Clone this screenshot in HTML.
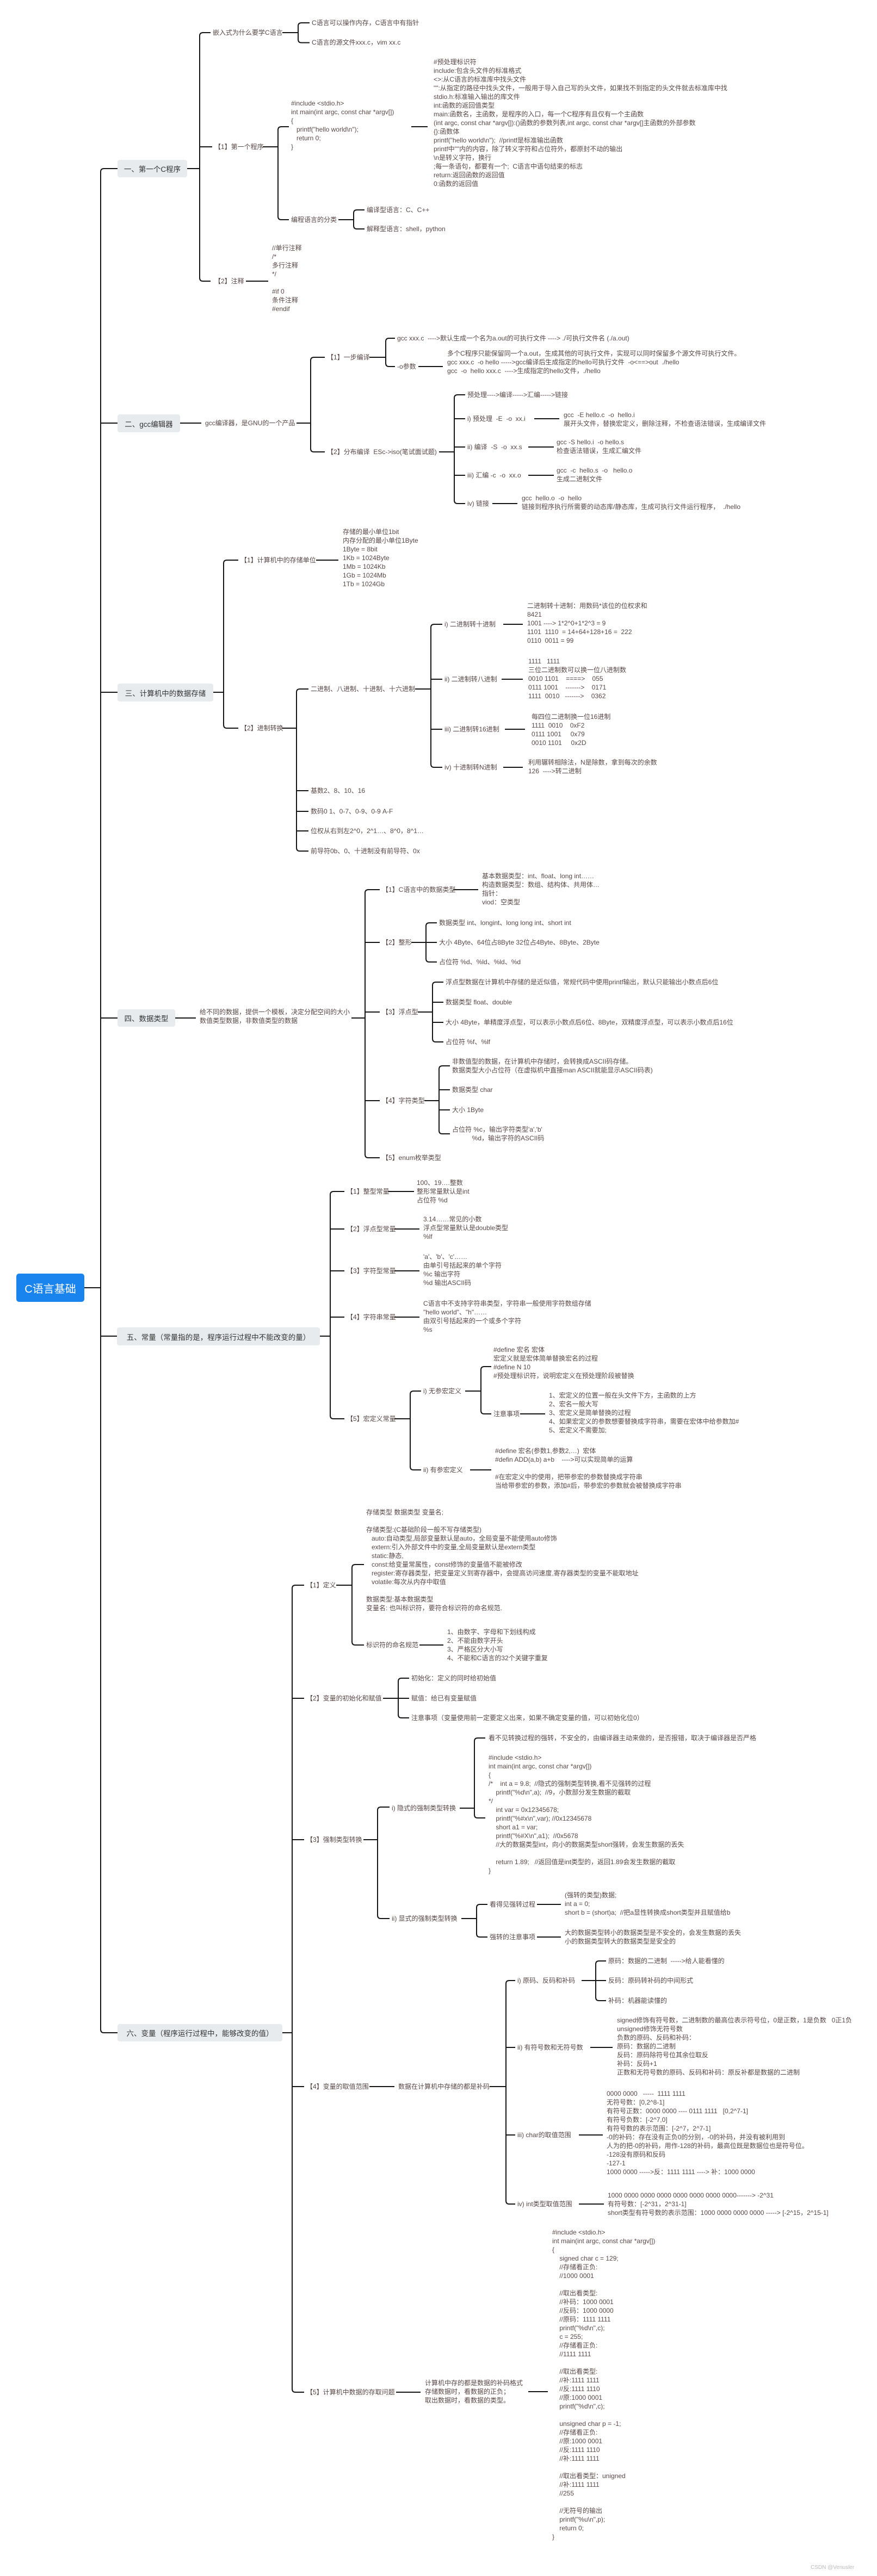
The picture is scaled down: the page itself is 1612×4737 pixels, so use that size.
<!DOCTYPE html>
<html><head><meta charset="utf-8">
<style>
html,body{margin:0;padding:0;background:#fff}
body{width:1612px;height:4737px;position:relative;overflow:hidden;font-family:"Liberation Sans","Noto Sans CJK SC",sans-serif}
.t{position:absolute;font-size:12px;line-height:16px;color:#5a4848;white-space:pre}
.b{position:absolute;background:#e8ebee;border-radius:4px;color:#333;font-size:13.5px;display:flex;align-items:center;justify-content:center;white-space:pre}
.r{position:absolute;background:#1a84ee;border-radius:5px;color:#fff;font-size:20px;display:flex;align-items:center;justify-content:center}
svg{position:absolute;left:0;top:0}
</style></head><body>
<svg width="1612" height="4737"><g fill="none" stroke="#151515" stroke-width="2">
<path d="M155 2368H185 M216 310H191Q185 310 185 316V3732Q185 3738 191 3738H216 M185 778H216 M185 1273H216 M185 1872H216 M185 2457H216"/>
<path d="M344 310H367 M387 60H373Q367 60 367 66V511Q367 517 373 517H387 M367 270H390"/>
<path d="M519 60H548 M569 42H554Q548 42 548 48V72.5Q548 78.5 554 78.5H569"/>
<path d="M483 270H511 M531 233H517Q511 233 511 239V398Q511 404 517 404H531"/>
<path d="M756 233H786"/>
<path d="M622 404H650 M670 386H656Q650 386 650 392V415Q650 421 656 421H670"/>
<path d="M452 517H493"/>
<path d="M331 778H370 M545 778H571 M597 657H577Q571 657 571 663V825Q571 831 577 831H597"/>
<path d="M679 657H709 M726 622H715Q709 622 709 628V668Q709 674 715 674H726"/>
<path d="M769 674H814"/>
<path d="M807 831H835 M855 726H841Q835 726 835 732V920Q835 926 841 926H855 M835 770H855 M835 822H855 M835 874H855"/>
<path d="M982 770H1028 M971 822H1018 M971 874H1018 M905 926H951"/>
<path d="M392 1273H411 M438 1030H417Q411 1030 411 1036V1333Q411 1339 417 1339H438"/>
<path d="M581 1030H622"/>
<path d="M519 1339H545 M567 1267H551Q545 1267 545 1273V1559Q545 1565 551 1565H567 M545 1454H567 M545 1492H567 M545 1528H567"/>
<path d="M763 1267H792 M813 1148H798Q792 1148 792 1154V1405Q792 1411 798 1411H813 M792 1249H813 M792 1341H813"/>
<path d="M925 1148H961 M922 1249H961 M928 1341H965 M925 1411H961"/>
<path d="M322 1872H360 M646 1872H671 M698 1636H677Q671 1636 671 1642V2123Q671 2129 677 2129H698 M671 1733H698 M671 1861H698 M671 2024H698"/>
<path d="M833 1636H879"/>
<path d="M756 1733H783 M803 1697H789Q783 1697 783 1703V1763Q783 1769 789 1769H803 M783 1733H803"/>
<path d="M768 1861H795 M815 1806H801Q795 1806 795 1812V1910Q795 1916 801 1916H815 M795 1843H815 M795 1880H815"/>
<path d="M780 2024H807 M827 1960H813Q807 1960 807 1966V2079Q807 2085 813 2085H827 M807 2004H827 M807 2041H827"/>
<path d="M588 2457H607 M633 2191H613Q607 2191 607 2197V2603Q607 2609 613 2609H633 M607 2260H633 M607 2337H633 M607 2422H633"/>
<path d="M714 2191H761 M725 2260H771 M725 2337H771 M725 2422H771"/>
<path d="M725 2609H754 M774 2558H760Q754 2558 754 2564V2697Q754 2703 760 2703H774"/>
<path d="M855 2558H884 M903 2513H890Q884 2513 884 2519V2594Q884 2600 890 2600H903"/>
<path d="M956 2600H1002 M864 2703H903"/>
<path d="M519 3738H537 M559 2915H543Q537 2915 537 2921V4393Q537 4399 543 4399H559 M537 3123H559 M537 3383H559 M537 3837H559"/>
<path d="M618 2915H647 M669 2877H653Q647 2877 647 2883V3019Q647 3025 653 3025H669"/>
<path d="M771 3025H815"/>
<path d="M704 3123H732 M752 3086H738Q732 3086 732 3092V3153Q732 3159 738 3159H752 M732 3123H752"/>
<path d="M668 3383H694 M716 3323H700Q694 3323 694 3329V3522Q694 3528 700 3528H716"/>
<path d="M845 3325H872 M892 3196H878Q872 3196 872 3202V3337Q872 3343 878 3343H892"/>
<path d="M848 3528H876 M896 3502H882Q876 3502 876 3508V3556Q876 3562 882 3562H896"/>
<path d="M987 3502H1031 M987 3562H1031"/>
<path d="M679 3837H725 M900 3837H930 M947 3642H936Q930 3642 930 3648V4047Q930 4053 936 4053H947 M930 3765H947 M930 3926H947"/>
<path d="M1069 3642H1095 M1114 3606H1101Q1095 3606 1095 3612V3673Q1095 3679 1101 3679H1114 M1095 3642H1114"/>
<path d="M1085 3765H1126 M1064 3926H1108 M1064 4053H1110"/>
<path d="M728 4399H773 M971 4398H1007"/>
</g></svg>

<div class="r" style="left:30px;top:2342px;width:125px;height:52px">C语言基础</div>
<div class="b" style="left:216px;top:294px;width:128px;height:32px">一、第一个C程序</div>
<div class="b" style="left:216px;top:762px;width:115px;height:33px">二、gcc编辑器</div>
<div class="b" style="left:216px;top:1257px;width:176px;height:33px">三、计算机中的数据存储</div>
<div class="b" style="left:216px;top:1856px;width:106px;height:32px">四、数据类型</div>
<div class="b" style="left:215px;top:2441px;width:373px;height:33px">五、常量（常量指的是，程序运行过程中不能改变的量）</div>
<div class="b" style="left:216px;top:3722px;width:303px;height:32px">六、变量（程序运行过程中，能够改变的值）</div>

<!-- 一 -->
<div class="t" style="left:391px;top:52px">嵌入式为什么要学C语言</div>
<div class="t" style="left:573px;top:34px">C语言可以操作内存，C语言中有指针</div>
<div class="t" style="left:573px;top:70px">C语言的源文件xxx.c，vim xx.c</div>
<div class="t" style="left:394px;top:262px">【1】第一个程序</div>
<div class="t" style="left:535px;top:182px">#include &lt;stdio.h&gt;
int main(int argc, const char *argv[])
{
   printf("hello world\n");
   return 0;
}</div>
<div class="t" style="left:797px;top:106px">#预处理标识符
include:包含头文件的标准格式
&lt;&gt;:从C语言的标准库中找头文件
"":从指定的路径中找头文件，一般用于导入自己写的头文件，如果找不到指定的头文件就去标准库中找
stdio.h:标准输入输出的库文件
int:函数的返回值类型
main:函数名，主函数，是程序的入口，每一个C程序有且仅有一个主函数
(int argc, const char *argv[]):()函数的参数列表,int argc, const char *argv[]主函数的外部参数
{}:函数体
printf("hello world\n");  //printf是标准输出函数
printf中""内的内容，除了转义字符和占位符外，都原封不动的输出
\n是转义字符，换行
;每一条语句，都要有一个;  C语言中语句结束的标志
return:返回函数的返回值
0:函数的返回值</div>
<div class="t" style="left:535px;top:396px">编程语言的分类</div>
<div class="t" style="left:674px;top:378px">编译型语言：C、C++</div>
<div class="t" style="left:674px;top:413px">解释型语言：shell，python</div>
<div class="t" style="left:394px;top:509px">【2】注释</div>
<div class="t" style="left:500px;top:448px">//单行注释
/*
多行注释
*/

#if 0
条件注释
#endif</div>

<!-- 二 -->
<div class="t" style="left:377px;top:770px">gcc编译器，是GNU的一个产品</div>
<div class="t" style="left:601px;top:649px">【1】一步编译</div>
<div class="t" style="left:730px;top:614px">gcc xxx.c  ---->默认生成一个名为a.out的可执行文件 ----> ./可执行文件名 (./a.out)</div>
<div class="t" style="left:730px;top:666px">-o参数</div>
<div class="t" style="left:822px;top:642px">多个C程序只能保留同一个a.out，生成其他的可执行文件，实现可以同时保留多个源文件可执行文件。
gcc xxx.c  -o hello ----->gcc编译后生成指定的hello可执行文件  -o&lt;==&gt;out  ./hello
gcc  -o  hello xxx.c  ---->生成指定的hello文件，./hello</div>
<div class="t" style="left:601px;top:823px">【2】分布编译  ESc-&gt;iso(笔试面试题)</div>
<div class="t" style="left:859px;top:718px">预处理---->编译----->汇编----->链接</div>
<div class="t" style="left:859px;top:762px">i) 预处理  -E  -o  xx.i</div>
<div class="t" style="left:1036px;top:755px">gcc  -E hello.c  -o  hello.i
展开头文件，替换宏定义，删除注释，不检查语法错误，生成编译文件</div>
<div class="t" style="left:859px;top:814px">ii) 编译  -S  -o  xx.s</div>
<div class="t" style="left:1023px;top:805px">gcc -S hello.i  -o hello.s
检查语法错误，生成汇编文件</div>
<div class="t" style="left:859px;top:866px">iii) 汇编 -c  -o  xx.o</div>
<div class="t" style="left:1023px;top:857px">gcc  -c  hello.s  -o   hello.o
生成二进制文件</div>
<div class="t" style="left:859px;top:918px">iv) 链接</div>
<div class="t" style="left:959px;top:908px">gcc  hello.o  -o  hello
链接到程序执行所需要的动态库/静态库，生成可执行文件运行程序，  ./hello</div>

<!-- 三 -->
<div class="t" style="left:442px;top:1022px">【1】计算机中的存储单位</div>
<div class="t" style="left:630px;top:970px">存储的最小单位1bit
内存分配的最小单位1Byte
1Byte = 8bit
1Kb = 1024Byte
1Mb = 1024Kb
1Gb = 1024Mb
1Tb = 1024Gb</div>
<div class="t" style="left:442px;top:1331px">【2】进制转换</div>
<div class="t" style="left:571px;top:1259px">二进制、八进制、十进制、十六进制</div>
<div class="t" style="left:817px;top:1140px">i) 二进制转十进制</div>
<div class="t" style="left:969px;top:1106px">二进制转十进制：用数码*该位的位权求和
8421
1001 ----> 1*2^0+1*2^3 = 9
1101  1110  = 14+64+128+16 =  222
0110  0011 = 99</div>
<div class="t" style="left:817px;top:1241px">ii) 二进制转八进制</div>
<div class="t" style="left:971px;top:1208px">1111   1111
三位二进制数可以换一位八进制数
0010 1101    ====>    055
0111 1001    ------->    0171
1111  0010   ------->    0362</div>
<div class="t" style="left:817px;top:1333px">iii) 二进制转16进制</div>
<div class="t" style="left:977px;top:1310px">每四位二进制换一位16进制
1111  0010    0xF2
0111 1001     0x79
0010 1101     0x2D</div>
<div class="t" style="left:817px;top:1403px">iv) 十进制转N进制</div>
<div class="t" style="left:971px;top:1394px">利用辗转相除法，N是除数，拿到每次的余数
126  ---->转二进制</div>
<div class="t" style="left:571px;top:1446px">基数2、8、10、16</div>
<div class="t" style="left:571px;top:1484px">数码0 1、0-7、0-9、0-9 A-F</div>
<div class="t" style="left:571px;top:1520px">位权从右到左2^0，2^1…、8^0，8^1…</div>
<div class="t" style="left:571px;top:1557px">前导符0b、0、十进制没有前导符、0x</div>

<!-- 四 -->
<div class="t" style="left:367px;top:1853px">给不同的数据，提供一个模板，决定分配空间的大小
数值类型数据，非数值类型的数据</div>
<div class="t" style="left:702px;top:1628px">【1】C语言中的数据类型</div>
<div class="t" style="left:886px;top:1603px">基本数据类型：int、float、long int……
构造数据类型：数组、结构体、共用体…
指针：
viod：空类型</div>
<div class="t" style="left:702px;top:1725px">【2】整形</div>
<div class="t" style="left:807px;top:1689px">数据类型 int、longint、long long int、short int</div>
<div class="t" style="left:807px;top:1725px">大小 4Byte、64位占8Byte 32位占4Byte、8Byte、2Byte</div>
<div class="t" style="left:807px;top:1761px">占位符 %d、%ld、%ld、%d</div>
<div class="t" style="left:702px;top:1853px">【3】浮点型</div>
<div class="t" style="left:819px;top:1798px">浮点型数据在计算机中存储的是近似值，常规代码中使用printf输出，默认只能输出小数点后6位</div>
<div class="t" style="left:819px;top:1835px">数据类型 float、double</div>
<div class="t" style="left:819px;top:1872px">大小 4Byte，单精度浮点型，可以表示小数点后6位、8Byte，双精度浮点型，可以表示小数点后16位</div>
<div class="t" style="left:819px;top:1908px">占位符 %f、%lf</div>
<div class="t" style="left:702px;top:2016px">【4】字符类型</div>
<div class="t" style="left:831px;top:1944px">非数值型的数据，在计算机中存储时，会转换成ASCII码存储。
数据类型大小占位符（在虚拟机中直接man ASCII就能显示ASCII码表)</div>
<div class="t" style="left:831px;top:1996px">数据类型 char</div>
<div class="t" style="left:831px;top:2033px">大小 1Byte</div>
<div class="t" style="left:831px;top:2069px">占位符 %c，输出字符类型'a','b'
           %d，输出字符的ASCII码</div>
<div class="t" style="left:702px;top:2121px">【5】enum枚举类型</div>

<!-- 五 -->
<div class="t" style="left:637px;top:2183px">【1】整型常量</div>
<div class="t" style="left:766px;top:2167px">100、19….整数
整形常量默认是int
占位符 %d</div>
<div class="t" style="left:637px;top:2252px">【2】浮点型常量</div>
<div class="t" style="left:778px;top:2234px">3.14……常见的小数
浮点型常量默认是double类型
%lf</div>
<div class="t" style="left:637px;top:2329px">【3】字符型常量</div>
<div class="t" style="left:778px;top:2303px">'a'、'b'、'c'……
由单引号括起来的单个字符
%c 输出字符
%d 输出ASCII码</div>
<div class="t" style="left:637px;top:2414px">【4】字符串常量</div>
<div class="t" style="left:778px;top:2389px">C语言中不支持字符串类型，字符串一般使用字符数组存储
"hello world"、"h"……
由双引号括起来的一个或多个字符
%s</div>
<div class="t" style="left:637px;top:2601px">【5】宏定义常量</div>
<div class="t" style="left:778px;top:2550px">i) 无参宏定义</div>
<div class="t" style="left:907px;top:2474px">#define 宏名 宏体
宏定义就是宏体简单替换宏名的过程
#define N 10
#预处理标识符，说明宏定义在预处理阶段被替换</div>
<div class="t" style="left:907px;top:2592px">注意事项</div>
<div class="t" style="left:1009px;top:2558px">1、宏定义的位置一般在头文件下方，主函数的上方
2、宏名一般大写
3、宏定义是简单替换的过程
4、如果宏定义的参数想要替换成字符串，需要在宏体中给参数加#
5、宏定义不需要加;</div>
<div class="t" style="left:778px;top:2695px">ii) 有参宏定义</div>
<div class="t" style="left:910px;top:2660px">#define 宏名(参数1,参数2,…)  宏体
#defin ADD(a,b) a+b    ---->可以实现简单的运算

#在宏定义中的使用，把带参宏的参数替换成字符串
当给带参宏的参数，添加#后，带参宏的参数就会被替换成字符串</div>

<!-- 六 -->
<div class="t" style="left:563px;top:2907px">【1】定义</div>
<div class="t" style="left:673px;top:2773px">存储类型 数据类型 变量名;

存储类型:(C基础阶段一般不写存储类型)
   auto:自动类型,局部变量默认是auto，全局变量不能使用auto修饰
   extern:引入外部文件中的变量,全局变量默认是extern类型
   static:静态,
   const:给变量常属性，const修饰的变量值不能被修改
   register:寄存器类型，把变量定义到寄存器中，会提高访问速度,寄存器类型的变量不能取地址
   volatile:每次从内存中取值

数据类型:基本数据类型
变量名: 也叫标识符，要符合标识符的命名规范.</div>
<div class="t" style="left:673px;top:3017px">标识符的命名规范</div>
<div class="t" style="left:822px;top:2993px">1、由数字、字母和下划线构成
2、不能由数字开头
3、严格区分大小写
4、不能和C语言的32个关键字重复</div>
<div class="t" style="left:563px;top:3115px">【2】变量的初始化和赋值</div>
<div class="t" style="left:756px;top:3078px">初始化：定义的同时给初始值</div>
<div class="t" style="left:756px;top:3115px">赋值：给已有变量赋值</div>
<div class="t" style="left:756px;top:3151px">注意事项（变量使用前一定要定义出来，如果不确定变量的值，可以初始化位0）</div>
<div class="t" style="left:563px;top:3375px">【3】强制类型转换</div>
<div class="t" style="left:720px;top:3317px">i) 隐式的强制类型转换</div>
<div class="t" style="left:898px;top:3188px">看不见转换过程的强转，不安全的，由编译器主动来做的，是否报错，取决于编译器是否严格</div>
<div class="t" style="left:898px;top:3224px">#include &lt;stdio.h&gt;
int main(int argc, const char *argv[])
{
/*    int a = 9.8;  //隐式的强制类型转换,看不见强转的过程
    printf("%d\n",a);  //9，小数部分发生数据的截取
*/
    int var = 0x12345678;
    printf("%#x\n",var); //0x12345678
    short a1 = var;
    printf("%#X\n",a1);  //0x5678
    //大的数据类型int，向小的数据类型short强转，会发生数据的丢失

    return 1.89;   //返回值是int类型的，返回1.89会发生数据的截取
}</div>
<div class="t" style="left:720px;top:3520px">ii) 显式的强制类型转换</div>
<div class="t" style="left:900px;top:3494px">看得见强转过程</div>
<div class="t" style="left:1038px;top:3477px">(强转的类型)数据;
int a = 0;
short b = (short)a;  //把a显性转换成short类型并且赋值给b</div>
<div class="t" style="left:900px;top:3554px">强转的注意事项</div>
<div class="t" style="left:1038px;top:3546px">大的数据类型转小的数据类型是不安全的，会发生数据的丢失
小的数据类型转大的数据类型是安全的</div>
<div class="t" style="left:563px;top:3829px">【4】变量的取值范围</div>
<div class="t" style="left:732px;top:3829px">数据在计算机中存储的都是补码</div>
<div class="t" style="left:951px;top:3634px">i) 原码、反码和补码</div>
<div class="t" style="left:1118px;top:3598px">原码：数据的二进制  ----->给人能看懂的</div>
<div class="t" style="left:1118px;top:3634px">反码：原码转补码的中间形式</div>
<div class="t" style="left:1118px;top:3671px">补码：机器能读懂的</div>
<div class="t" style="left:951px;top:3757px">ii) 有符号数和无符号数</div>
<div class="t" style="left:1134px;top:3707px">signed修饰有符号数，二进制数的最高位表示符号位，0是正数，1是负数   0正1负
unsigned修饰无符号数
负数的原码、反码和补码：
原码：数据的二进制
反码：原码除符号位其余位取反
补码：反码+1
正数和无符号数的原码、反码和补码：原反补都是数据的二进制</div>
<div class="t" style="left:951px;top:3918px">iii) char的取值范围</div>
<div class="t" style="left:1115px;top:3842px">0000 0000   -----  1111 1111
无符号数：[0,2^8-1]
有符号正数：0000 0000 ---- 0111 1111   [0,2^7-1]
有符号负数：[-2^7,0]
有符号数的表示范围：[-2^7，2^7-1]
-0的补码：存在没有正负0的分别，-0的补码，并没有被利用到
人为的把-0的补码，用作-128的补码，最高位既是数据位也是符号位。
-128没有原码和反码
-127-1
1000 0000 ----->反：1111 1111 ----> 补：1000 0000</div>
<div class="t" style="left:951px;top:4045px">iv) int类型取值范围</div>
<div class="t" style="left:1117px;top:4029px">1000 0000 0000 0000 0000 0000 0000 0000-------> -2^31
有符号数：[-2^31，2^31-1]
short类型有符号数的表示范围：1000 0000 0000 0000 -----> [-2^15，2^15-1]</div>
<div class="t" style="left:563px;top:4391px">【5】计算机中数据的存取问题</div>
<div class="t" style="left:781px;top:4374px">计算机中存的都是数据的补码格式
存储数据时，看数据的正负；
取出数据时，看数据的类型。</div>
<div class="t" style="left:1015px;top:4097px">#include &lt;stdio.h&gt;
int main(int argc, const char *argv[])
{
    signed char c = 129;
    //存储看正负:
    //1000 0001

    //取出看类型:
    //补码：1000 0001
    //反码：1000 0000
    //原码：1111 1111
    printf("%d\n",c);
    c = 255;
    //存储看正负:
    //1111 1111

    //取出看类型:
    //补:1111 1111
    //反:1111 1110
    //原:1000 0001
    printf("%d\n",c);

    unsigned char p = -1;
    //存储看正负:
    //原:1000 0001
    //反:1111 1110
    //补:1111 1111

    //取出看类型：unigned
    //补:1111 1111
    //255

    //无符号的输出
    printf("%u\n",p);
    return 0;
}</div>
<div class="t" style="left:1490px;top:4714px;color:#bbb;font-size:10px">CSDN @Venusler</div>
</body></html>
